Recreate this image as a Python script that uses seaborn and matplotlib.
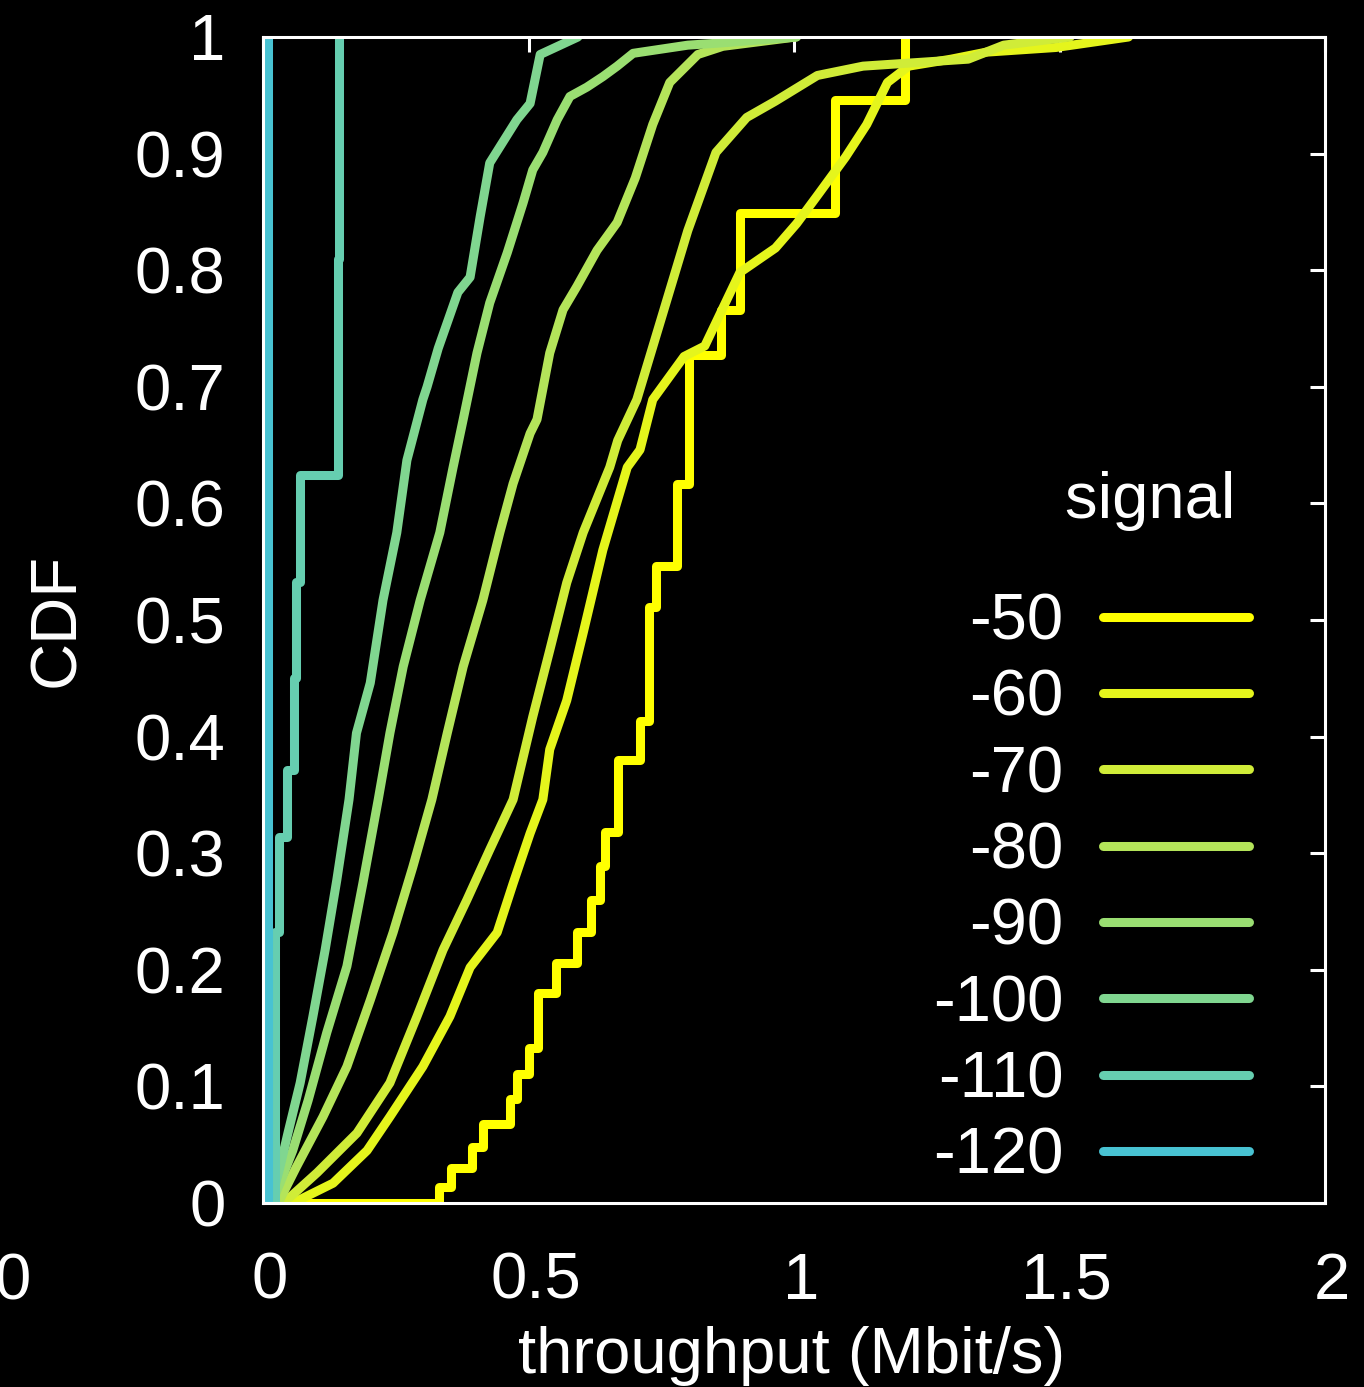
import matplotlib
matplotlib.use("Agg")
import matplotlib.pyplot as plt
import matplotlib.transforms as mtransforms
import numpy as np
import pandas as pd
import seaborn as sns

# ---------------- data ----------------
signals = ["-50", "-60", "-70", "-80", "-90", "-100", "-110", "-120"]
colors = ["#ffff00", "#e5f51c", "#d0ec38", "#b4e45a", "#9ade72", "#80d690", "#66ceb0", "#48c2d2"]
step_signals = ["-50", "-110", "-120"]

tp_50 = [0.0, 0.331, 0.354, 0.393, 0.415, 0.465, 0.478, 0.500, 0.517, 0.552, 0.591, 0.618,
         0.635, 0.644, 0.668, 0.710, 0.726, 0.741, 0.779, 0.803, 0.862, 0.898, 1.077, 1.209]
cdf_50 = [0.0, 0.014, 0.030, 0.048, 0.068, 0.089, 0.111, 0.133, 0.180, 0.206, 0.232, 0.260,
          0.289, 0.318, 0.380, 0.413, 0.511, 0.546, 0.617, 0.727, 0.766, 0.849, 0.946, 1.0]

tp_60 = [0.03, 0.070, 0.132, 0.196, 0.239, 0.301, 0.352, 0.390, 0.441, 0.471, 0.503, 0.527,
         0.540, 0.572, 0.603, 0.640, 0.686, 0.710, 0.734, 0.793, 0.832, 0.898, 0.965, 1.005,
         1.044, 1.097, 1.137, 1.176, 1.216, 1.296, 1.362, 1.493, 1.63]
cdf_60 = [0.0, 0.003, 0.017, 0.045, 0.074, 0.117, 0.160, 0.202, 0.232, 0.274, 0.317, 0.346,
          0.389, 0.431, 0.489, 0.560, 0.631, 0.646, 0.689, 0.726, 0.735, 0.798, 0.819, 0.840,
          0.864, 0.897, 0.925, 0.961, 0.975, 0.981, 0.987, 0.991, 1.0]

tp_70 = [0.02, 0.051, 0.102, 0.177, 0.239, 0.290, 0.339, 0.384, 0.427, 0.471, 0.508, 0.540,
         0.572, 0.603, 0.653, 0.668, 0.704, 0.800, 0.853, 0.911, 0.965, 1.044, 1.130, 1.328,
         1.395, 1.52]
cdf_70 = [0.0, 0.005, 0.026, 0.060, 0.103, 0.160, 0.217, 0.260, 0.303, 0.346, 0.417, 0.474,
          0.532, 0.575, 0.631, 0.654, 0.689, 0.834, 0.901, 0.931, 0.945, 0.967, 0.975, 0.981,
          0.993, 1.0]

tp_80 = [0.015, 0.032, 0.063, 0.113, 0.158, 0.202, 0.245, 0.282, 0.318, 0.347, 0.377, 0.414,
         0.446, 0.471, 0.503, 0.516, 0.540, 0.565, 0.591, 0.629, 0.667, 0.701, 0.734, 0.766,
         0.819, 0.866, 1.004]
cdf_80 = [0.0, 0.003, 0.031, 0.074, 0.117, 0.174, 0.232, 0.288, 0.346, 0.403, 0.460, 0.517,
          0.575, 0.617, 0.660, 0.672, 0.729, 0.766, 0.786, 0.817, 0.841, 0.879, 0.925, 0.961,
          0.985, 0.992, 1.0]

tp_90 = [0.012, 0.019, 0.032, 0.056, 0.085, 0.120, 0.158, 0.188, 0.217, 0.239, 0.264, 0.296,
         0.333, 0.358, 0.377, 0.403, 0.427, 0.460, 0.490, 0.508, 0.527, 0.554, 0.578, 0.610,
         0.640, 0.667, 0.697, 0.800, 0.866, 1.005]
cdf_90 = [0.0, 0.003, 0.017, 0.045, 0.088, 0.146, 0.203, 0.274, 0.346, 0.403, 0.460, 0.517,
          0.575, 0.631, 0.672, 0.729, 0.772, 0.815, 0.858, 0.886, 0.901, 0.929, 0.949, 0.957,
          0.966, 0.975, 0.986, 0.993, 0.995, 1.0]

tp_100 = [0.010, 0.016, 0.032, 0.047, 0.070, 0.094, 0.117, 0.139, 0.162, 0.176, 0.202, 0.226,
          0.252, 0.271, 0.301, 0.309, 0.330, 0.367, 0.390, 0.409, 0.427, 0.478, 0.503, 0.522,
          0.593]
cdf_100 = [0.0, 0.003, 0.031, 0.060, 0.103, 0.160, 0.217, 0.277, 0.346, 0.403, 0.446, 0.517,
           0.575, 0.637, 0.689, 0.700, 0.733, 0.781, 0.794, 0.846, 0.892, 0.929, 0.943, 0.985,
           1.0]

tp_110 = [0.0, 0.022, 0.030, 0.045, 0.058, 0.062, 0.069, 0.141, 0.143]
cdf_110 = [0.0, 0.232, 0.314, 0.371, 0.450, 0.533, 0.624, 0.810, 1.0]

tp_120 = [0.0, 0.009]
cdf_120 = [0.0, 1.0]

throughputs = [tp_50, tp_60, tp_70, tp_80, tp_90, tp_100, tp_110, tp_120]
cdfs = [cdf_50, cdf_60, cdf_70, cdf_80, cdf_90, cdf_100, cdf_110, cdf_120]

x_ticks = [0, 0.5, 1, 1.5, 2]
x_tick_labels = ["0", "0.5", "1", "1.5", "2"]
y_ticks = [0, 0.1, 0.2, 0.3, 0.4, 0.5, 0.6, 0.7, 0.8, 0.9, 1.0]
y_tick_labels = ["0", "0.1", "0.2", "0.3", "0.4", "0.5", "0.6", "0.7", "0.8", "0.9", "1"]

# ---------------- style ----------------
sns.set_theme(style="dark")
plt.rcParams.update({
    "figure.facecolor": "black",
    "axes.facecolor": "black",
    "axes.edgecolor": "white",
    "text.color": "white",
    "xtick.color": "white",
    "ytick.color": "white",
    "axes.labelcolor": "white",
})
plt.rcParams["font.family"] = ["Liberation Sans", "DejaVu Sans"]

FS = 47
W, H = 1364, 1387
fig = plt.figure(figsize=(W / 100, H / 100), dpi=100, facecolor="black")
ax = fig.add_axes([263 / W, (H - 1203) / H, (1325 - 263) / W, (1203 - 37) / H])
ax.set_facecolor("black")
ax.grid(False)

for sig, col, xs, ys in zip(signals, colors, throughputs, cdfs):
    df = pd.DataFrame({"throughput": xs, "cdf": ys})
    kw = {"drawstyle": "steps-post"} if sig in step_signals else {}
    sns.lineplot(data=df, x="throughput", y="cdf", ax=ax, color=col, linewidth=6.5,
                 estimator=None, sort=False, label=sig, **kw)

ax.set_xlim(0, 2)
ax.set_ylim(0, 1)
ax.set_xticks(x_ticks)
ax.set_xticklabels(x_tick_labels)
ax.set_yticks(y_ticks)
ax.set_yticklabels(y_tick_labels)
ax.tick_params(axis="both", direction="in", length=10.5, width=2.2, color="white",
               labelcolor="white", labelsize=FS, top=True, right=True)
ax.tick_params(axis="x", pad=35)
ax.tick_params(axis="y", pad=27)
for lab in ax.get_xticklabels():
    lab.set_transform(lab.get_transform() + mtransforms.ScaledTranslation(7 / 100, 0, fig.dpi_scale_trans))
for sp in ax.spines.values():
    sp.set_color("white")
    sp.set_linewidth(2.2)
    sp.set_visible(True)

ax.set_xlabel("")
ax.set_ylabel("")
fig.text(57 / W, 1 - 620 / H, "CDF", rotation=90, ha="center", va="center", fontsize=FS, color="white")
fig.text(792 / W, (H - 1373) / H, "throughput (Mbit/s)", ha="center", va="baseline", fontsize=FS, color="white")
fig.text(13 / W, (H - 1300) / H, "0", ha="center", va="baseline", fontsize=FS, color="white")

handles, labels = ax.get_legend_handles_labels()
leg = ax.legend(handles, labels, title="signal\u2009", loc="lower right", bbox_to_anchor=(0.928, 0.014),
                frameon=False, markerfirst=False, handlelength=2.236, handletextpad=0.595,
                labelspacing=0.25, fontsize=FS, title_fontsize=FS, alignment="right",
                borderpad=0, borderaxespad=0)
for t in leg.get_texts():
    t.set_color("white")
leg.get_title().set_color("white")
leg._legend_box.sep = 44

fig.savefig("out.png", dpi=100, facecolor="black")
